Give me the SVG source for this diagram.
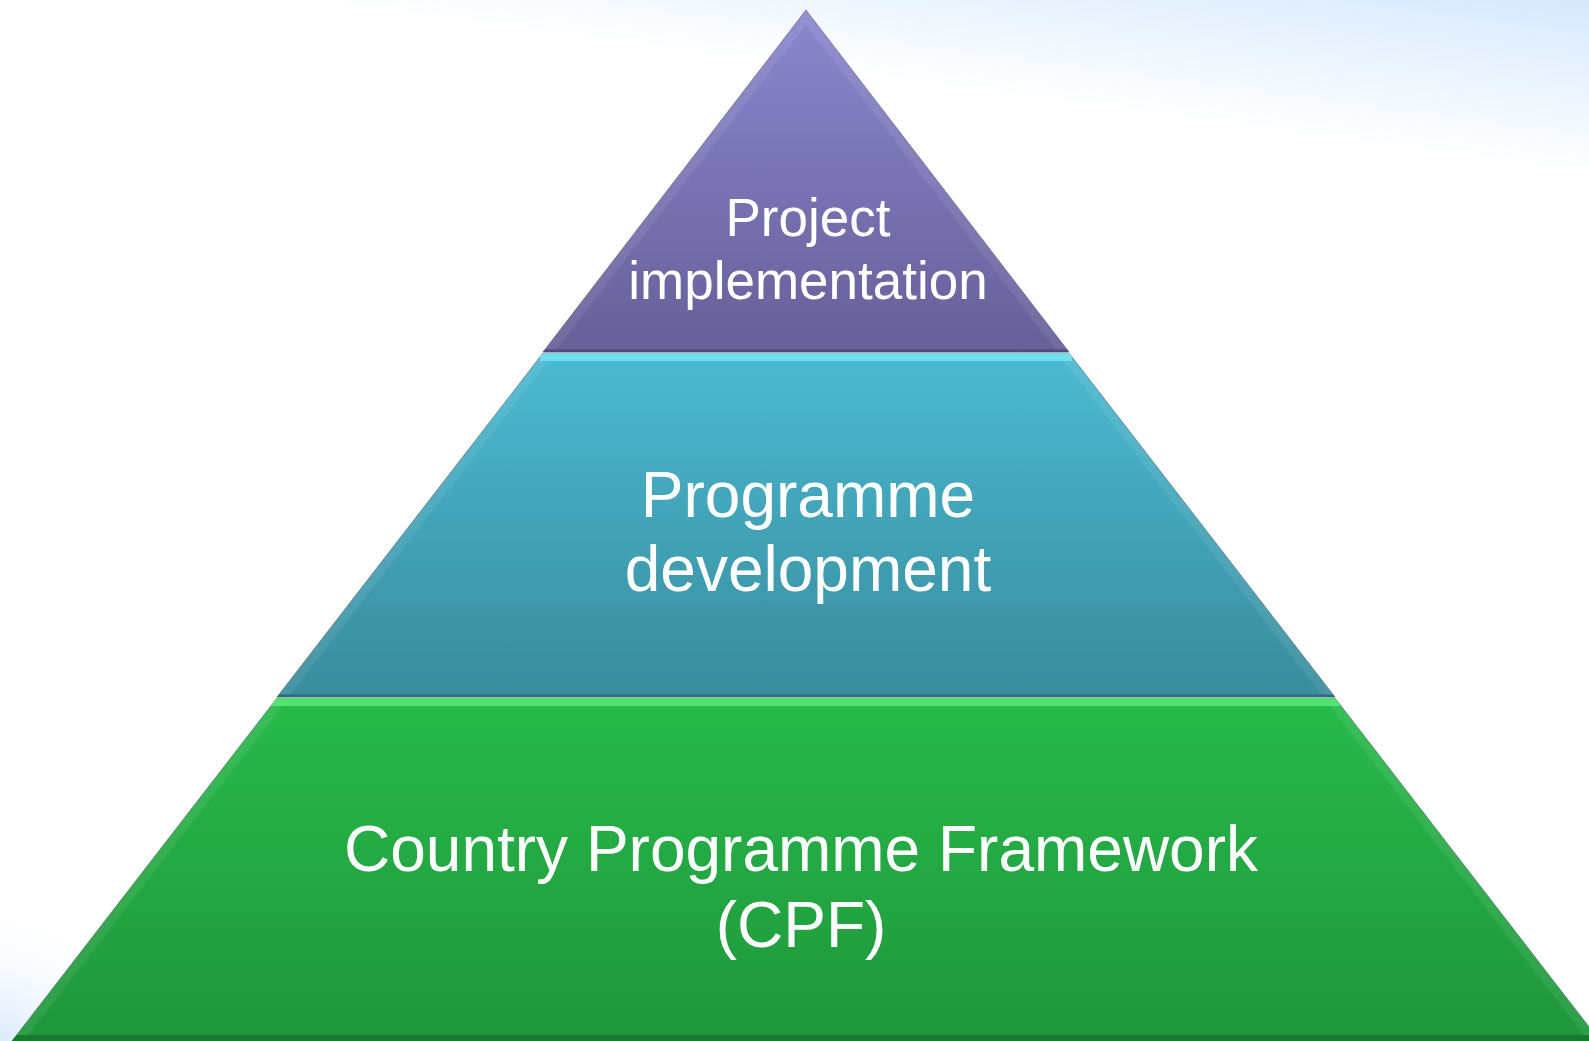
<svg xmlns="http://www.w3.org/2000/svg" width="1589" height="1041" viewBox="0 0 1589 1041">
  <defs>
    <linearGradient id="bgTR" gradientUnits="userSpaceOnUse" x1="1589" y1="175" x2="1612" y2="4">
      <stop offset="0" stop-color="#ffffff"/>
      <stop offset="1" stop-color="#d7e9fc"/>
    </linearGradient>
    <radialGradient id="bgBL" gradientUnits="userSpaceOnUse" cx="0" cy="1041" r="140">
      <stop offset="0" stop-color="#dbeafb"/>
      <stop offset="1" stop-color="#ffffff" stop-opacity="0"/>
    </radialGradient>
    <linearGradient id="gTop" x1="0" y1="0" x2="0" y2="1">
      <stop offset="0" stop-color="#8b87cf"/>
      <stop offset="1" stop-color="#675f98"/>
    </linearGradient>
    <linearGradient id="gMid" x1="0" y1="0" x2="0" y2="1">
      <stop offset="0" stop-color="#4bbad2"/>
      <stop offset="1" stop-color="#398c9c"/>
    </linearGradient>
    <linearGradient id="gBot" x1="0" y1="0" x2="0" y2="1">
      <stop offset="0" stop-color="#28ba4b"/>
      <stop offset="1" stop-color="#1f963b"/>
    </linearGradient>
    <clipPath id="cTop"><polygon points="806,10 1069,352 543,352"/></clipPath>
    <clipPath id="cMid"><polygon points="543,353 1069,353 1335,697 277,697"/></clipPath>
    <clipPath id="cBot"><polygon points="277,698 1335,698 1600,1041 12,1041"/></clipPath>
  </defs>
  <style>
    .lbl { font-family: "Liberation Sans", Arial, sans-serif; fill: #ffffff; text-anchor: middle; }
    .edge { fill: none; stroke: #ffffff; stroke-opacity: 0.08; stroke-width: 18; }
    .outline { stroke: #4d5560; stroke-opacity: 0.55; stroke-width: 1; }
  </style>
  <rect x="0" y="0" width="1589" height="1041" fill="url(#bgTR)"/>
  <rect x="0" y="841" width="200" height="200" fill="url(#bgBL)"/>

  <g id="node-project-implementation">
    <polygon class="outline" points="806,10 1069,352 543,352" fill="url(#gTop)"/>
    <g clip-path="url(#cTop)">
      <polyline class="edge" points="543,352 806,10 1069,352"/>
      <line x1="540" y1="351" x2="1072" y2="351" stroke="#514a7c" stroke-width="3"/>
    </g>
    <text class="lbl" x="808" y="236" font-size="53">Project</text>
    <text class="lbl" x="808" y="299" font-size="53">implementation</text>
  </g>

  <g id="node-programme-development">
    <polygon class="outline" points="543,353 1069,353 1335,697 277,697" fill="url(#gMid)"/>
    <g clip-path="url(#cMid)">
      <polyline class="edge" points="543,353 277,697"/>
      <polyline class="edge" points="1069,353 1335,697"/>
      <line x1="540" y1="357" x2="1072" y2="357" stroke="#7ae6f8" stroke-width="8" stroke-opacity="0.8"/>
      <line x1="270" y1="696" x2="1340" y2="696" stroke="#2c6d7a" stroke-width="3"/>
    </g>
    <text class="lbl" x="808" y="517" font-size="64">Programme</text>
    <text class="lbl" x="808" y="591" font-size="64">development</text>
  </g>

  <g id="node-cpf">
    <polygon class="outline" points="277,698 1335,698 1600,1041 12,1041" fill="url(#gBot)"/>
    <g clip-path="url(#cBot)">
      <polyline class="edge" points="277,698 12,1041"/>
      <polyline class="edge" points="1335,698 1600,1041"/>
      <line x1="270" y1="702" x2="1340" y2="702" stroke="#5cf07a" stroke-width="8" stroke-opacity="0.75"/>
      <line x1="0" y1="1038" x2="1600" y2="1038" stroke="#187a2e" stroke-width="6"/>
    </g>
    <text class="lbl" x="801" y="871" font-size="64">Country Programme Framework</text>
    <text class="lbl" x="801" y="947" font-size="64">(CPF)</text>
  </g>

  <g id="connectors"/>
</svg>
